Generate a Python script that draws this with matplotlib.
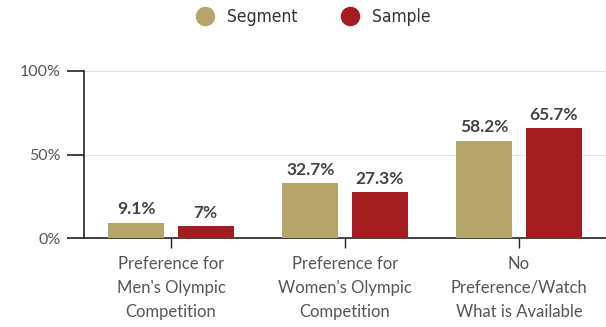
import matplotlib
matplotlib.use("Agg")
import matplotlib.pyplot as plt
from matplotlib.lines import Line2D

categories = [
    "Preference for\nMen's Olympic\nCompetition",
    "Preference for\nWomen's Olympic\nCompetition",
    "No\nPreference/Watch\nWhat is Available",
]
segment = [9.1, 32.7, 58.2]
sample = [7.0, 27.3, 65.7]
segment_labels = ["9.1%", "32.7%", "58.2%"]
sample_labels = ["7%", "27.3%", "65.7%"]
series_names = ["Segment", "Sample"]
yticks = [0, 50, 100]
ytick_labels = ["0%", "50%", "100%"]

GOLD = "#B5A46C"
RED = "#A31C1F"
TEXT = "#555555"

W, H = 606, 327
fig = plt.figure(figsize=(W / 100, H / 100), dpi=100)
ax = fig.add_axes([84 / W, (H - 238) / H, (606 - 84) / W, (238 - 71) / H])

x = list(range(len(categories)))
bw = 0.32
off = 0.2
bars1 = ax.bar([i - off for i in x], segment, width=bw, color=GOLD, zorder=3)
bars2 = ax.bar([i + off for i in x], sample, width=bw, color=RED, zorder=3)

for bars, labels in ((bars1, segment_labels), (bars2, sample_labels)):
    for b, lab in zip(bars, labels):
        ax.annotate(lab, (b.get_x() + b.get_width() / 2, b.get_height()),
                    xytext=(0, 4), textcoords="offset points",
                    ha="center", va="bottom", fontsize=12.5, fontweight="bold",
                    color="#444444", family="Lato")

ax.set_xlim(-0.5, 2.5)
ax.set_ylim(0, 100)
ax.set_yticks(yticks)
ax.set_yticklabels(ytick_labels, family="Lato", fontsize=11.5, color=TEXT)
ax.set_xticks(x)
ax.set_xticklabels(categories, family="Lato", fontsize=12, color=TEXT,
                   linespacing=1.6)

for y in (50, 100):
    ax.axhline(y, color="#e2e2e2", lw=0.8, zorder=1)

for s in ("top", "right"):
    ax.spines[s].set_visible(False)
ax.spines["left"].set_color("#222222")
ax.spines["bottom"].set_color("#222222")
ax.spines["left"].set_linewidth(1.2)
ax.spines["bottom"].set_linewidth(1.2)
ax.tick_params(axis="y", length=12, width=1.2, color="#222222", pad=5)
ax.tick_params(axis="x", length=7, width=1.0, color="#222222", pad=6)

handles = [Line2D([], [], marker="o", ls="none", markersize=13, color=GOLD),
           Line2D([], [], marker="o", ls="none", markersize=13, color=RED)]
fig.legend(handles, series_names, loc="upper center", bbox_to_anchor=(0.51, 1.022),
           ncol=2, frameon=False, handletextpad=0.3, columnspacing=2.0,
           prop={"family": "DejaVu Sans", "stretch": "condensed", "size": 12.5})
for t in fig.legends[0].get_texts():
    t.set_color("#333333")

fig.savefig("out.png", dpi=100)
